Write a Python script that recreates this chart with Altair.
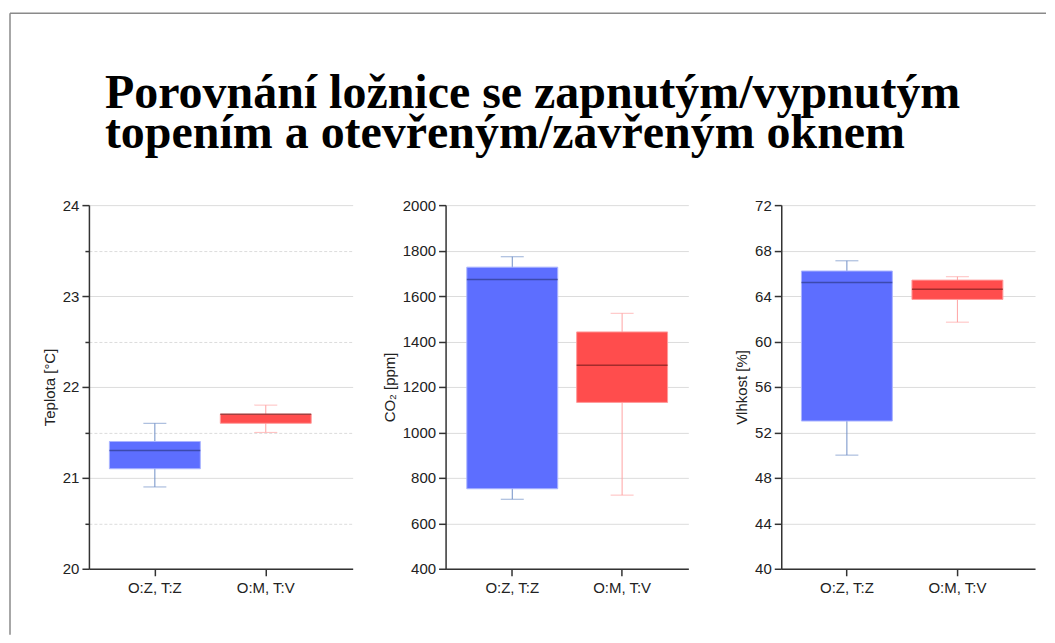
import altair as alt
import pandas as pd

categories = ["O:Z, T:Z", "O:M, T:V"]

# Teplota [°C]
temp_lo = [20.9, 21.5]
temp_q1 = [21.1, 21.6]
temp_med = [21.3, 21.7]
temp_q3 = [21.4, 21.7]
temp_hi = [21.6, 21.8]
temp_ticks = [20, 20.5, 21, 21.5, 22, 22.5, 23, 23.5, 24]

# CO2 [ppm]
co2_lo = [706, 724]
co2_q1 = [752, 1132]
co2_med = [1673, 1295]
co2_q3 = [1727, 1442]
co2_hi = [1773, 1524]
co2_ticks = [400, 600, 800, 1000, 1200, 1400, 1600, 1800, 2000]

# Vlhkost [%]
hum_lo = [50.0, 61.7]
hum_q1 = [53.0, 63.7]
hum_med = [65.2, 64.6]
hum_q3 = [66.2, 65.4]
hum_hi = [67.1, 65.7]
hum_ticks = [40, 44, 48, 52, 56, 60, 64, 68, 72]

title_lines = ["Porovnání ložnice se zapnutým/vypnutým",
               "topením a otevřeným/zavřeným oknem"]

fill_colors = ["#5d6eff", "#ff4d4d"]
stroke_colors = ["#aab4ff", "#ff9c9c"]
whisker_colors = ["#6f8fc6", "#ffa3a3"]
median_colors = ["#2f3a8c", "#7a1e1e"]

FONT = "Liberation Sans"


def panel(lo, q1, med, q3, hi, ticks, ytitle, width, po, align,
          minor=False, border=False):
    df = pd.DataFrame({"cat": categories, "lo": lo, "q1": q1,
                       "med": med, "q3": q3, "hi": hi})
    xenc = alt.X("cat:N", sort=categories,
                 scale=alt.Scale(paddingInner=0, paddingOuter=po, align=align),
                 axis=alt.Axis(title=None, labelAngle=0, grid=False,
                               tickSize=7, labelPadding=5))
    axis_kw = dict(title=ytitle, values=ticks, grid=True, tickSize=7,
                   labelPadding=3, titlePadding=5)
    if minor:
        axis_kw.update(
            labelExpr="datum.value % 1 != 0 ? '' : format(datum.value, 'd')",
            gridDash={"condition": {"test": "datum.value % 1 != 0",
                                    "value": [3, 2]}, "value": []},
            tickSize={"condition": {"test": "datum.value % 1 != 0",
                                    "value": 4}, "value": 7},
        )
    else:
        axis_kw["format"] = "d"
    yscale = alt.Scale(domain=[ticks[0], ticks[-1]], nice=False, zero=False)
    base = alt.Chart(df).encode(x=xenc)

    wcol = alt.Color("cat:N", scale=alt.Scale(domain=categories,
                                              range=whisker_colors),
                     legend=None)
    whisk = base.mark_rule(strokeWidth=1).encode(
        y=alt.Y("lo:Q", scale=yscale, title=ytitle, axis=alt.Axis(**axis_kw)),
        y2="hi:Q", color=wcol)
    cap_lo = base.mark_tick(size=23, thickness=1).encode(
        y=alt.Y("lo:Q", scale=yscale, title=ytitle), color=wcol)
    cap_hi = base.mark_tick(size=23, thickness=1).encode(
        y=alt.Y("hi:Q", scale=yscale, title=ytitle), color=wcol)
    box = base.mark_bar(size=91, strokeWidth=1).encode(
        y=alt.Y("q1:Q", scale=yscale, title=ytitle), y2="q3:Q",
        fill=alt.Fill("cat:N", scale=alt.Scale(domain=categories,
                                               range=fill_colors),
                      legend=None),
        stroke=alt.Stroke("cat:N", scale=alt.Scale(domain=categories,
                                                   range=stroke_colors),
                          legend=None))
    median = base.mark_tick(size=91, thickness=1.5).encode(
        y=alt.Y("med:Q", scale=yscale, title=ytitle),
        color=alt.Color("cat:N", scale=alt.Scale(domain=categories,
                                                 range=median_colors),
                        legend=None))
    layers = [whisk, cap_lo, cap_hi, box, median]
    if border:
        bdf = pd.DataFrame({"k": [0]})
        btop = alt.Chart(bdf).mark_rule(color="#8a8a8a", strokeWidth=1.5).encode(
            x=alt.value(-79), x2=alt.value(958), y=alt.value(-192))
        bleft = alt.Chart(bdf).mark_rule(color="#8a8a8a", strokeWidth=1.5).encode(
            x=alt.value(-79), y=alt.value(-192), y2=alt.value(430))
        layers += [btop, bleft]
    return alt.layer(*layers).resolve_scale(
        color="independent").properties(width=width, height=364)


p1 = panel(temp_lo, temp_q1, temp_med, temp_q3, temp_hi, temp_ticks,
           "Teplota [°C]", 264, 0.189, 0.25, minor=True, border=True)
p2 = panel(co2_lo, co2_q1, co2_med, co2_q3, co2_hi, co2_ticks,
           "CO₂ [ppm]", 243, 0.105, 0.51)
p3 = panel(hum_lo, hum_q1, hum_med, hum_q3, hum_hi, hum_ticks,
           "Vlhkost [%]", 254, 0.148, 0.317)

chart = alt.hconcat(p1, p2, p3, spacing=93, bounds="flush").properties(
    title=alt.TitleParams(text=title_lines, font="Liberation Serif",
                          fontSize=48, fontWeight="bold", color="black",
                          anchor="start", frame="group", lineHeight=40,
                          offset=0, dx=16, dy=146),
    padding={"left": 1, "top": 4, "right": 0, "bottom": 0},
    background="white",
).configure_view(stroke=None).configure_axis(
    domainColor="#333333", domainWidth=1.5, tickColor="#333333", tickWidth=1.5,
    gridColor="#dcdcdc", gridWidth=1,
    labelFont=FONT, labelFontSize=15, labelColor="#222222",
    titleFont=FONT, titleFontSize=15, titleFontWeight="normal",
    titleColor="#222222")

chart.save("out.html", embed_options={"renderer": "svg", "actions": False})
